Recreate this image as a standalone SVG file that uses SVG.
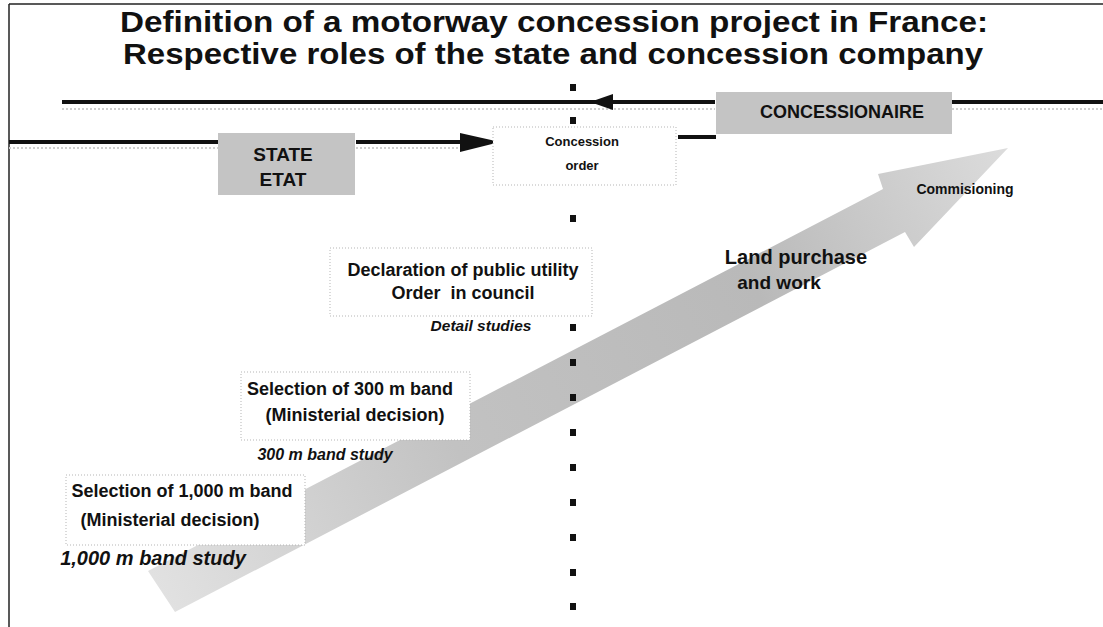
<svg xmlns="http://www.w3.org/2000/svg" width="1103" height="627" viewBox="0 0 1103 627">
<defs>
<style>
text{font-family:"Liberation Sans",Arial,sans-serif;font-weight:bold;fill:#111}
.title{font-size:29px;text-anchor:middle}
.box{fill:#fff;stroke:#b5b5b5;stroke-width:1;stroke-dasharray:1 2}
.gray{fill:#c4c4c4}
.thick{stroke:#111;stroke-width:4;fill:none}
.shadow{stroke:#cfcfcf;stroke-width:2;stroke-dasharray:2 2;fill:none}
.lbl{font-size:18px;text-anchor:middle}
.it{font-style:italic}
.sq{fill:#111}
</style>
<linearGradient id="band" x1="148" y1="590" x2="1010" y2="150" gradientUnits="userSpaceOnUse">
<stop offset="0" stop-color="#e2e2e2"/>
<stop offset="0.35" stop-color="#c2c2c2"/>
<stop offset="0.7" stop-color="#b9b9b9"/>
<stop offset="1" stop-color="#dcdcdc"/>
</linearGradient>
</defs>
<rect width="1103" height="627" fill="#fff"/>
<g id="frame">
<line x1="9" y1="4" x2="1103" y2="4" stroke="#222" stroke-width="1.5"/>
<line x1="9" y1="4" x2="9" y2="627" stroke="#222" stroke-width="1.5"/>
</g>
<g id="title">
<text class="title" x="554" y="32" textLength="868" lengthAdjust="spacingAndGlyphs">Definition of a motorway concession project in France:</text>
<text class="title" x="553" y="64" textLength="860" lengthAdjust="spacingAndGlyphs">Respective roles of the state and concession company</text>
</g>
<g id="big-arrow">
<path d="M148,571 L883,189 L878,174 L1008,148 L914,247 L905,232 L175,612 Z" fill="url(#band)"/>
</g>
<g id="connectors">
<line class="shadow" x1="62" y1="109" x2="715" y2="109"/>
<line class="shadow" x1="952" y1="109" x2="1103" y2="109"/>
<line class="shadow" x1="9" y1="148" x2="218" y2="148"/>
<line class="shadow" x1="356" y1="148" x2="470" y2="148"/>
<line class="thick" x1="62" y1="102" x2="715" y2="102"/>
<line class="thick" x1="952" y1="102" x2="1103" y2="102"/>
<polygon points="590,102 613,94 613,110" fill="#111"/>
<line class="thick" x1="9" y1="142" x2="218" y2="142"/>
<line class="thick" x1="356" y1="142" x2="465" y2="142"/>
<polygon points="500,142 460,133 460,152" fill="#111"/>
<line class="thick" x1="678" y1="137" x2="716" y2="137"/>
</g>
<g id="timeline">
<rect class="sq" x="570" y="84" width="6" height="7"/>
<rect class="sq" x="570" y="117" width="6" height="7"/>
<rect class="sq" x="570" y="215" width="6" height="7"/>
<rect class="sq" x="570" y="324" width="6" height="7"/>
<rect class="sq" x="570" y="359" width="6" height="7"/>
<rect class="sq" x="570" y="394" width="6" height="7"/>
<rect class="sq" x="570" y="429" width="6" height="7"/>
<rect class="sq" x="570" y="464" width="6" height="7"/>
<rect class="sq" x="570" y="499" width="6" height="7"/>
<rect class="sq" x="570" y="534" width="6" height="7"/>
<rect class="sq" x="570" y="569" width="6" height="7"/>
<rect class="sq" x="570" y="603" width="6" height="7"/>
</g>
<g id="concessionaire">
<rect class="gray" x="716" y="92" width="236" height="42"/>
<text x="842" y="118" style="font-size:18px;text-anchor:middle">CONCESSIONAIRE</text>
</g>
<g id="state">
<rect class="gray" x="218" y="133" width="137" height="62"/>
<text x="283" y="161" style="font-size:19px;text-anchor:middle">STATE</text>
<text x="283" y="186" style="font-size:19px;text-anchor:middle">ETAT</text>
</g>
<g id="concession-order">
<rect class="box" x="493" y="127" width="183" height="58"/>
<text x="582" y="146" style="font-size:13px;text-anchor:middle">Concession</text>
<text x="582" y="170" style="font-size:13px;text-anchor:middle">order</text>
</g>
<g id="declaration">
<rect class="box" x="330" y="248" width="262" height="68"/>
<text class="lbl" x="463" y="276">Declaration of public utility</text>
<text class="lbl" x="463" y="299" style="white-space:pre">Order  in council</text>
<text class="lbl it" x="481" y="331" style="font-size:15.5px">Detail studies</text>
</g>
<g id="band-300">
<rect class="box" x="241" y="372" width="229" height="68"/>
<text class="lbl" x="350" y="395">Selection of 300 m band</text>
<text class="lbl" x="355" y="421">(Ministerial decision)</text>
<text class="lbl it" x="325" y="460" style="font-size:16px">300 m band study</text>
</g>
<g id="band-1000">
<rect class="box" x="66" y="475" width="239" height="70"/>
<text class="lbl" x="182" y="497">Selection of 1,000 m band</text>
<text class="lbl" x="170" y="526">(Ministerial decision)</text>
<text class="lbl it" x="153" y="565" style="font-size:20px">1,000 m band study</text>
</g>
<g id="land-purchase">
<text class="lbl" x="796" y="264" style="font-size:20px">Land purchase</text>
<text class="lbl" x="779" y="289" style="font-size:19px">and work</text>
</g>
<g id="commissioning">
<text class="lbl" x="965" y="194" style="font-size:14px">Commisioning</text>
</g>
</svg>
